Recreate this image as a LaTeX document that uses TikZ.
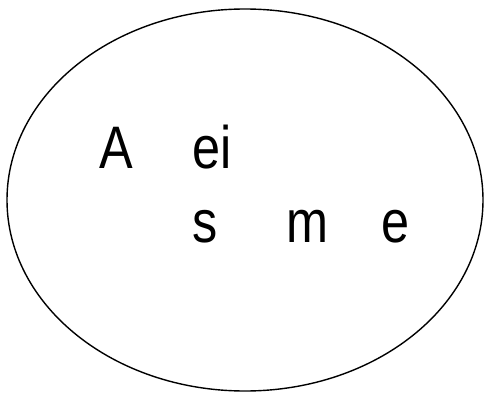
\documentclass[tikz,border=0pt]{standalone}
\usepackage{fontspec}
\setmainfont[FakeStretch=0.84]{Liberation Sans}
\begin{document}
\begin{tikzpicture}[x=1pt,y=1pt,
  lbl/.style={anchor=base west,inner sep=0pt,font=\fontsize{60}{64}\selectfont}]
\useasboundingbox (0,0) rectangle (485,392);
\draw[line width=1.4pt] (245,192) ellipse [x radius=238, y radius=191];
\node[lbl] (a) at (99,224) {A};
\node[lbl] (ei) at (192,224) {ei};
\node[lbl] (s) at (192,150) {s};
\node[lbl] (m) at (286,150) {m};
\node[lbl] (e) at (381,150) {e};
\end{tikzpicture}
\end{document}
